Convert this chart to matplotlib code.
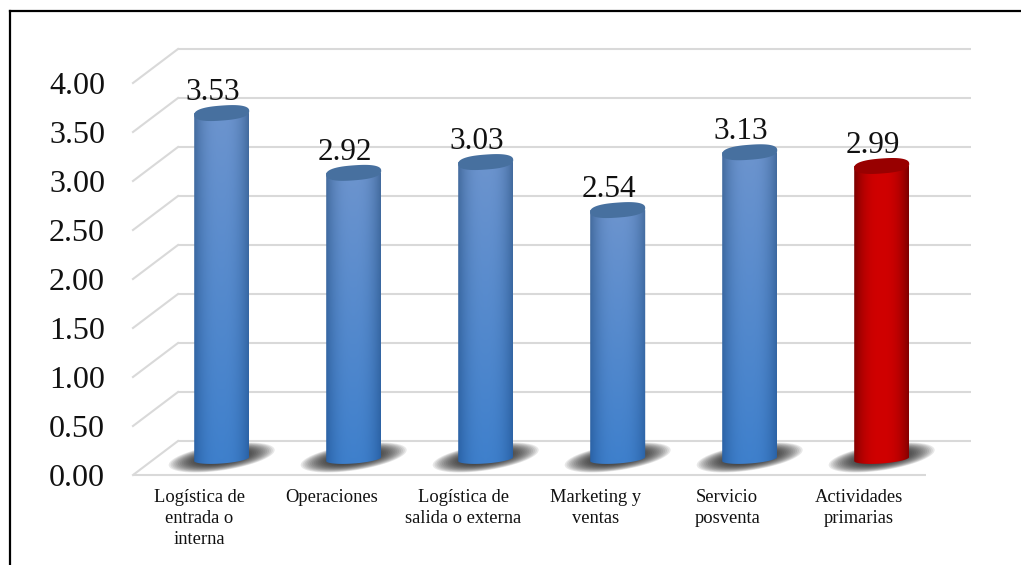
#!/usr/bin/python3
# -*- coding: utf-8 -*-

import numpy as np
import matplotlib
matplotlib.use("Agg")
import matplotlib.pyplot as plt
from matplotlib.lines import Line2D
from matplotlib.path import Path

plt.rcParams["font.family"] = ["Liberation Serif", "DejaVu Serif"]

categories = ["Logística de\nentrada o\ninterna", "Operaciones", "Logística de\nsalida o externa",
              "Marketing y\nventas", "Servicio\nposventa", "Actividades\nprimarias"]
values = [3.53, 2.92, 3.03, 2.54, 3.13, 2.99]
y_ticks = [0.0, 0.5, 1.0, 1.5, 2.0, 2.5, 3.0, 3.5, 4.0]
bar_styles = ["blue", "blue", "blue", "blue", "blue", "red"]

# edge / centre colours of each cylinder, at its top and at its base
palettes = {
    "blue": {"edge_top": "#446b9d", "mid_top": "#6c94ce", "edge_base": "#2a62a6", "mid_base": "#3f80cc",
             "cap": "#47709f"},
    "red": {"edge_top": "#7a0000", "mid_top": "#d00000", "edge_base": "#860000", "mid_base": "#d00000",
            "cap": "#980000"},
}

WIDTH, HEIGHT = 1021, 565
UNIT_X = 132.0  # pixels per category
UNIT_Y = 98.0  # pixels per value unit
X0, Y0 = 221.7, 459.0  # pixel position of the first bar's base

BAR_W = 27.5 / UNIT_X
CAP_H = 7.5 / UNIT_Y
BASE_H = 4.5 / UNIT_Y
CAP_TILT = 2.0 / UNIT_Y

FRONT_DY, BACK_DY = -16 / UNIT_Y, 18 / UNIT_Y
LEFT_FRONT, LEFT_BACK = (133 - X0) / UNIT_X, (178 - X0) / UNIT_X
RIGHT_FRONT, RIGHT_BACK = (926 - X0) / UNIT_X, (971 - X0) / UNIT_X
GRID = "#d9d9d9"


def rgb(color):
    return np.array(matplotlib.colors.to_rgb(color))


def draw_shadow(ax, cx):
    # soft floor shadow built from nested translucent ellipses
    t = np.linspace(0, 2 * np.pi, 80)
    for s in np.linspace(1.0, 0.12, 26):
        x = cx + s * (53 / UNIT_X) * np.cos(t)
        y = 1.5 / UNIT_Y + s * (13 / UNIT_Y) * np.sin(t) + s * (7.5 / UNIT_Y) * np.cos(t)
        ax.fill(x, y, color="#262626", alpha=0.1, lw=0, zorder=2)


def draw_cylinder(ax, cx, value, style):
    pal = palettes[style]
    xs = np.linspace(-1, 1, 90)
    ys = np.linspace(-0.1, value + 0.1, 160)
    # shading across the cylinder, with a vertical blend from top to base
    across = np.clip(1 - np.abs(xs) ** 2.6, 0, 1)[None, :, None]
    down = np.clip(ys / value, 0, 1)[:, None, None]
    edge = rgb(pal["edge_top"]) * down + rgb(pal["edge_base"]) * (1 - down)
    mid = rgb(pal["mid_top"]) * down + rgb(pal["mid_base"]) * (1 - down)
    img = edge + (mid - edge) * across
    im = ax.imshow(img, extent=(cx - BAR_W, cx + BAR_W, ys[0], ys[-1]), origin="lower",
                   aspect="auto", interpolation="bilinear", zorder=3)

    # body outline: rounded bottom, then straight up both sides
    t = np.linspace(np.pi, 2 * np.pi, 50)
    bx = cx + BAR_W * np.cos(t)
    by = BASE_H * np.sin(t) + CAP_TILT * np.cos(t)
    hull = np.column_stack([np.concatenate([bx, [cx + BAR_W, cx - BAR_W, bx[0]]]),
                            np.concatenate([by, [value, value, by[0]]])])
    im.set_clip_path(Path(hull), ax.transData)

    # top face, slightly squarer than a true ellipse
    t = np.linspace(0, 2 * np.pi, 120)
    ux = np.sign(np.cos(t)) * np.abs(np.cos(t)) ** 0.8
    uy = np.sign(np.sin(t)) * np.abs(np.sin(t)) ** 0.8
    ax.fill(cx + BAR_W * ux, value + CAP_H * uy + CAP_TILT * ux, color=pal["cap"], zorder=3.6, lw=0)


fig = plt.figure(figsize=(WIDTH / 100, HEIGHT / 100), dpi=100)
ax = fig.add_axes([0, 0, 1, 1])

# walls and floor of the chart box
for tick in y_ticks:
    ax.plot([LEFT_BACK, RIGHT_BACK], [tick + BACK_DY] * 2, color=GRID, lw=1.5, zorder=1,
            solid_capstyle="butt")
    ax.plot([LEFT_FRONT, LEFT_BACK], [tick + FRONT_DY, tick + BACK_DY], color=GRID, lw=1.5, zorder=1)
    ax.text((105 - X0) / UNIT_X, tick + FRONT_DY, f"{tick:.2f}", ha="right", va="center_baseline",
            fontsize=23, color="#111111", zorder=5)
ax.plot([LEFT_FRONT, RIGHT_FRONT], [FRONT_DY] * 2, color=GRID, lw=1.5, zorder=1, solid_capstyle="butt")

for i, (label, value, style) in enumerate(zip(categories, values, bar_styles)):
    draw_shadow(ax, i)
    draw_cylinder(ax, i, value, style)
    ax.text(i - 9 / UNIT_X, value + 24 / UNIT_Y, f"{value:.2f}", ha="center", va="center_baseline",
            fontsize=22.5, color="#111111", zorder=6)
    ax.text(i - 22.5 / UNIT_X, -(489 - Y0) / UNIT_Y, label, ha="center", va="top", fontsize=13.3,
            linespacing=1.31, color="#111111", zorder=6)

# page frame, open on the right and at the bottom
fig.add_artist(Line2D([10 / WIDTH, 10 / WIDTH], [0, 1 - 11 / HEIGHT], color="black", lw=1.6))
fig.add_artist(Line2D([10 / WIDTH, 1], [1 - 11 / HEIGHT, 1 - 11 / HEIGHT], color="black", lw=1.6))

ax.set_xlim(-X0 / UNIT_X, (WIDTH - X0) / UNIT_X)
ax.set_ylim((Y0 - HEIGHT) / UNIT_Y, Y0 / UNIT_Y)
ax.axis("off")

fig.savefig("out.png", dpi=100, facecolor="white")
